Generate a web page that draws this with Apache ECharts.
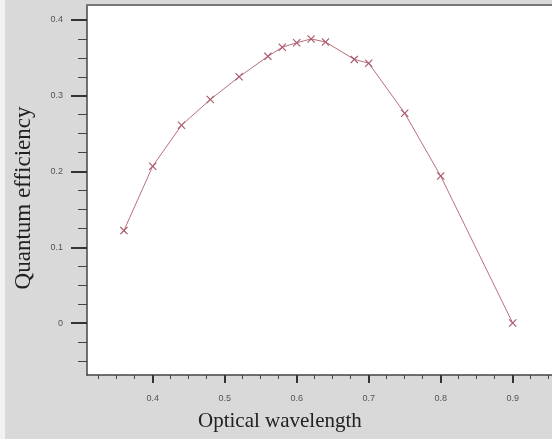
<!DOCTYPE html>
<html>
<head>
<meta charset="utf-8">
<script src="https://cdn.jsdelivr.net/npm/echarts@6/dist/echarts.min.js"></script>
<style>
html,body{margin:0;padding:0;}
#c{width:552px;height:439px;background:linear-gradient(to right,#f2f2f2 0,#f2f2f2 5px,#d9d9d9 5px);}
</style>
</head>
<body>
<div id="c"></div>
<script>
// Data
const wavelength = [0.36, 0.40, 0.44, 0.48, 0.52, 0.56, 0.58, 0.60, 0.62, 0.64, 0.68, 0.70, 0.75, 0.80, 0.90];
const efficiency = [0.122, 0.207, 0.261, 0.295, 0.325, 0.352, 0.364, 0.370, 0.375, 0.371, 0.348, 0.343, 0.277, 0.194, 0.0];
const xMajorTicks = [0.4, 0.5, 0.6, 0.7, 0.8, 0.9];
const xMinorTicks = [0.325, 0.35, 0.375, 0.425, 0.45, 0.475, 0.525, 0.55, 0.575, 0.625, 0.65, 0.675, 0.725, 0.75, 0.775, 0.825, 0.85, 0.875, 0.925, 0.95];
const yMajorTicks = [0, 0.1, 0.2, 0.3, 0.4];
const yMinorTicks = [-0.05, -0.025, 0.025, 0.05, 0.075, 0.125, 0.15, 0.175, 0.225, 0.25, 0.275, 0.325, 0.35, 0.375];
const xTitle = 'Optical wavelength';
const yTitle = 'Quantum efficiency';

const X_MIN = 0.30875, X_MAX = 0.9546, Y_MIN = -0.0686, Y_MAX = 0.4198;
const labelFont = {fontFamily: 'Liberation Sans, Arial, sans-serif', fontSize: 9, color: '#555'};

const chart = echarts.init(document.getElementById('c'), null, {renderer: 'canvas'});
chart.setOption({
  backgroundColor: 'transparent',
  animation: false,
  grid: {left: 87, top: 5, right: 0, bottom: 64, show: true, backgroundColor: '#ffffff', borderWidth: 0},
  xAxis: [
    {type: 'value', min: X_MIN, max: X_MAX, position: 'bottom',
     axisLine: {show: true, onZero: false, lineStyle: {color: '#444', width: 1.5}},
     axisTick: {show: true, customValues: xMajorTicks, length: 8, lineStyle: {color: '#333', width: 2}},
     axisLabel: Object.assign({show: true, customValues: xMajorTicks, margin: 19, formatter: v => v.toFixed(1)}, labelFont),
     splitLine: {show: false}},
    {type: 'value', min: X_MIN, max: X_MAX, position: 'bottom',
     axisLine: {show: false, onZero: false},
     axisTick: {show: true, customValues: xMinorTicks, length: 4, lineStyle: {color: '#444', width: 1}},
     axisLabel: {show: false}, splitLine: {show: false}},
    {type: 'value', min: X_MIN, max: X_MAX, position: 'top',
     axisLine: {show: true, onZero: false, lineStyle: {color: '#777', width: 2}},
     axisTick: {show: false}, axisLabel: {show: false}, splitLine: {show: false}}
  ],
  yAxis: [
    {type: 'value', min: Y_MIN, max: Y_MAX, position: 'left',
     axisLine: {show: true, onZero: false, lineStyle: {color: '#444', width: 1.5}},
     axisTick: {show: true, customValues: yMajorTicks, length: 16, lineStyle: {color: '#333', width: 2}},
     axisLabel: Object.assign({show: true, customValues: yMajorTicks, margin: 24, formatter: v => (v === 0 ? '0' : v.toFixed(1))}, labelFont),
     splitLine: {show: false}},
    {type: 'value', min: Y_MIN, max: Y_MAX, position: 'left',
     axisLine: {show: false, onZero: false},
     axisTick: {show: true, customValues: yMinorTicks, length: 9, lineStyle: {color: '#444', width: 1}},
     axisLabel: {show: false}, splitLine: {show: false}}
  ],
  graphic: [
    {type: 'text', left: 198, top: 411, style: {text: xTitle, font: '21px "Liberation Serif", "Times New Roman", serif', fill: '#222'}},
    {type: 'text', x: 24, y: 198, rotation: Math.PI / 2,
     style: {text: yTitle, font: '23px "Liberation Serif", "Times New Roman", serif', fill: '#222', align: 'center', verticalAlign: 'middle'}}
  ],
  series: [{
    type: 'line',
    xAxisIndex: 0, yAxisIndex: 0,
    data: wavelength.map((w, i) => [w, efficiency[i]]),
    symbol: 'path://M0,1L1,0L5,4L9,0L10,1L6,5L10,9L9,10L5,6L1,10L0,9L4,5Z',
    symbolSize: 8,
    showSymbol: true,
    lineStyle: {color: '#b8707c', width: 1},
    itemStyle: {color: '#a8586a'},
    silent: true
  }]
});
</script>
</body>
</html>
